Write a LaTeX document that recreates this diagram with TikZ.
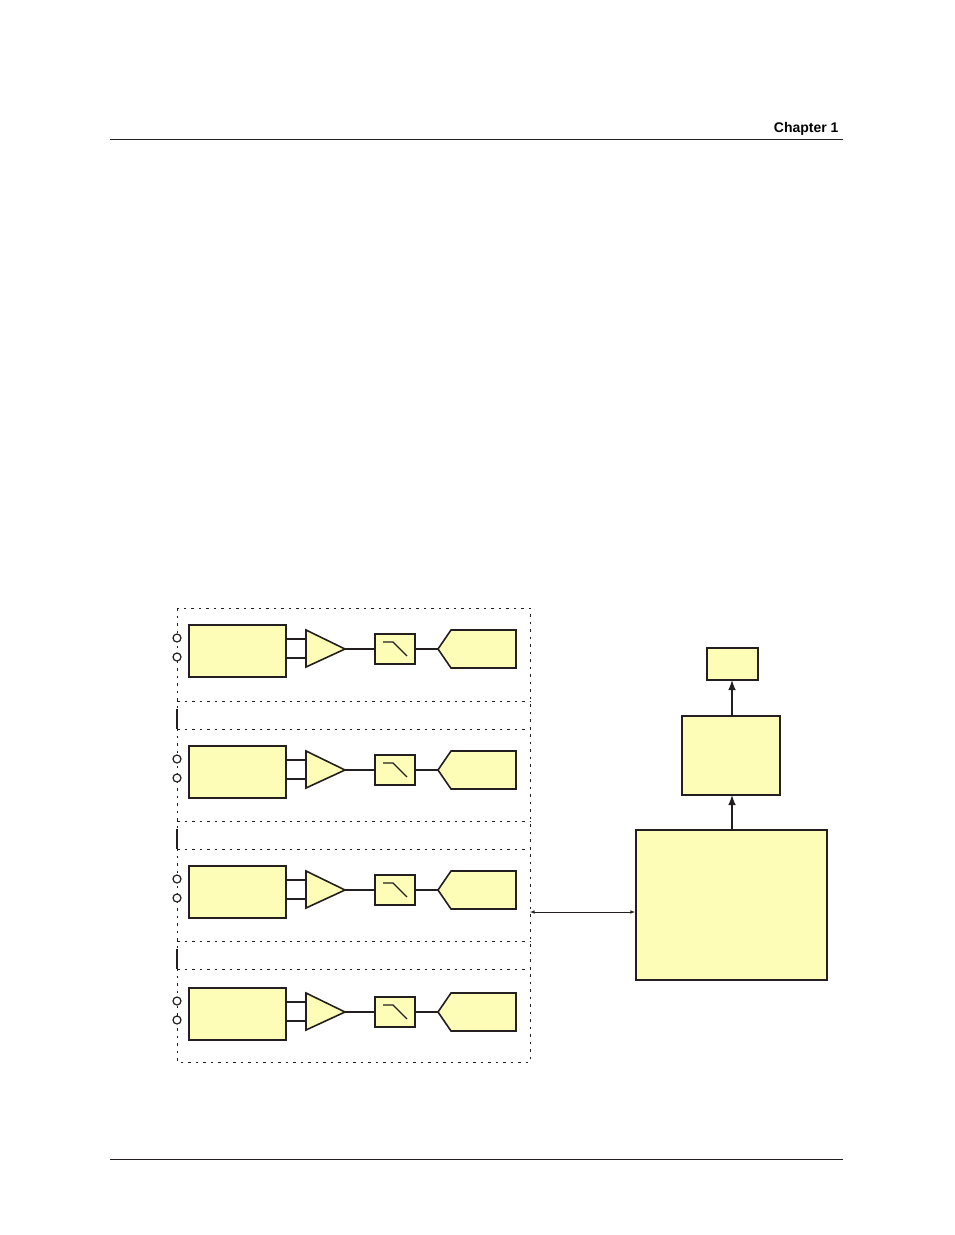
\documentclass[tikz,border=0pt]{standalone}
\usepackage{fontspec}
\setmainfont{Liberation Sans}
\definecolor{pad}{HTML}{FDFDB8}
\definecolor{ink}{HTML}{231F20}
\tikzset{
  blk/.style={draw=ink, fill=pad, line width=1.6pt},
  wire/.style={draw=ink, line width=1.2pt},
  frame/.style={draw=ink, line width=0.8pt, dash pattern=on 2.5pt off 5pt},
  up/.style={draw=ink, line width=2.4pt, -latex},
}
\begin{document}
\begin{tikzpicture}[x=1pt, y=-1pt]
  \useasboundingbox (0,0) rectangle (954,1235);
  % page header and footer
  \node[anchor=base east, font=\bfseries\fontsize{14}{16}\selectfont] (head) at (842,132) {Chapter 1};
  \draw[ink, line width=0.6pt] (110,139) -- (843,139);
  \draw[ink, line width=0.6pt] (110,1159) -- (843,1159);

  % outer dashed frame
  \draw[frame] (177,608) rectangle (530,1062);
  % channel separators
  \foreach \y in {701,821,941} {
    \draw[frame] (177,\y) -- (530,\y);
    \draw[frame] (177,\y+28) -- (530,\y+28);
    \draw[ink, line width=1.2pt] (177,\y+8) -- (177,\y+28);
  }

  % four input channels
  \foreach \i/\y in {1/624, 2/745, 3/865, 4/987} {
    \coordinate (c\i) at (0,\y+26);
    \draw[ink, line width=1.2pt, fill=white] (177,\y+14) circle (4);
    \draw[ink, line width=1.2pt, fill=white] (177,\y+33) circle (4);
    \node[blk, minimum width=97pt, minimum height=52pt, inner sep=0pt, anchor=north west] (in\i) at (188,\y) {};
    \draw[blk] (306,\y+6) -- (345,\y+25) -- (306,\y+43) -- cycle;
    \coordinate (amp\i) at (345,\y+25);
    \draw[wire] (285,\y+15) -- (306,\y+15);
    \draw[wire] (285,\y+34) -- (306,\y+34);
    \node[blk, minimum width=40pt, minimum height=30pt, inner sep=0pt] (flt\i) at (395,\y+25) {};
    \draw[ink, line width=1.2pt] (383,\y+18) -- (393,\y+18) -- (407,\y+32);
    \draw[blk] (438,\y+25) -- (451,\y+6) -- (516,\y+6) -- (516,\y+44) -- (451,\y+44) -- cycle;
    \coordinate (adc\i) at (438,\y+25);
    \draw[wire] (amp\i) -- (flt\i.west);
    \draw[wire] (flt\i.east) -- (adc\i);
  }

  % processing blocks
  \node[blk, minimum width=191pt, minimum height=150pt, inner sep=0pt, anchor=north west] (proc) at (635,829) {};
  \node[blk, minimum width=98pt, minimum height=79pt, inner sep=0pt, anchor=north west] (mid) at (681,715) {};
  \node[blk, minimum width=51pt, minimum height=32pt, inner sep=0pt, anchor=north west] (top) at (706,647) {};
  \draw[up] (732,829) -- (732,795);
  \draw[up] (732,715) -- (732,680);
  \coordinate (bus) at (530,912);
  \draw[ink, line width=0.6pt, latex-latex] (bus) -- (proc.west |- bus);
\end{tikzpicture}
\end{document}
